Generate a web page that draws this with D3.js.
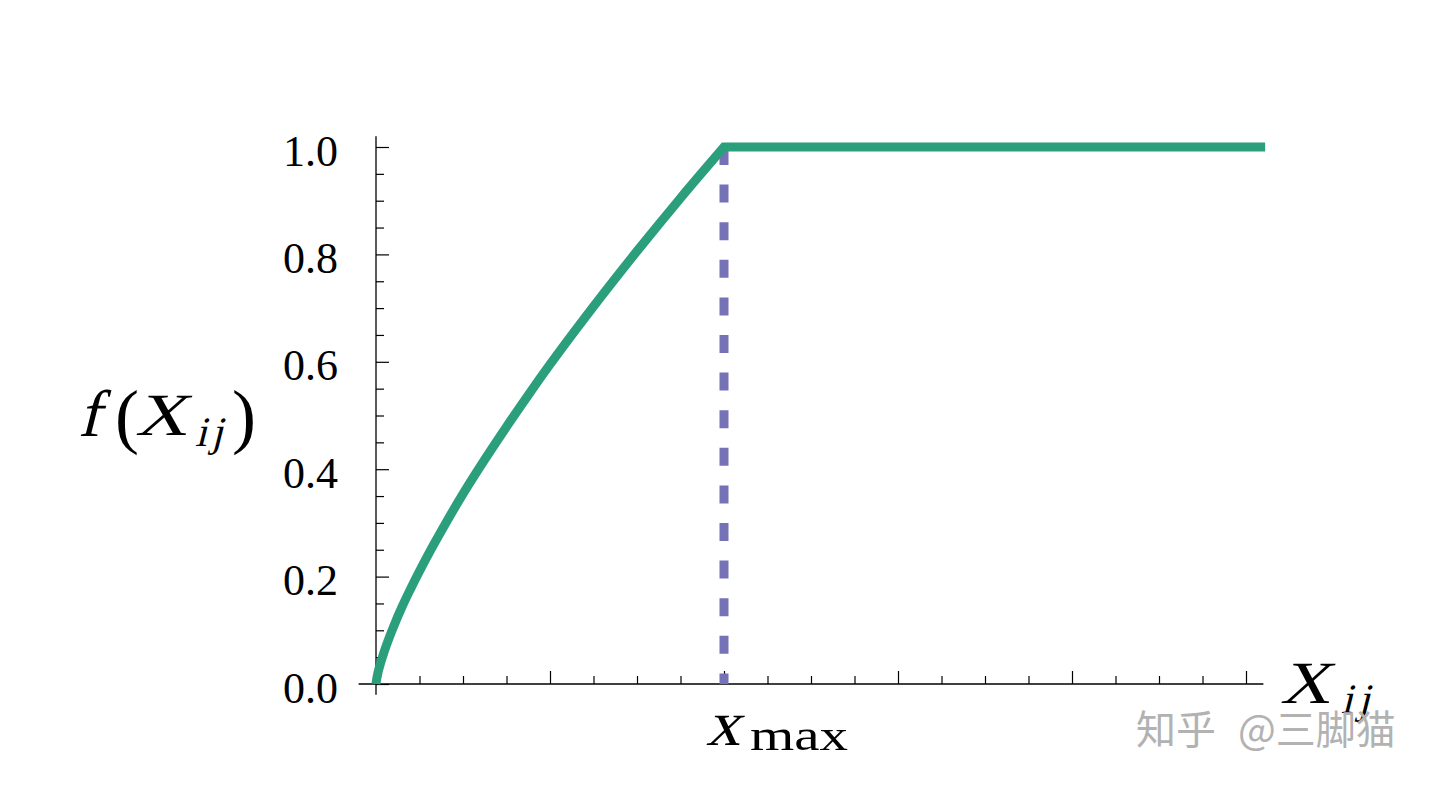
<!DOCTYPE html>
<html>
<head>
<meta charset="utf-8">
<script src="https://cdn.jsdelivr.net/npm/d3@7"></script>
<style>
  html, body { margin: 0; padding: 0; background: #fff; }
  svg { display: block; }
  .serif { font-family: "Liberation Serif", serif; }
</style>
</head>
<body>
<div class="chart"></div>
<script>
// values (x in units of the tick grid, xmax = 2)
const curveX = [0, 0.005, 0.01, 0.02, 0.05, 0.1, 0.15, 0.2, 0.3, 0.4, 0.5, 0.625, 0.75, 0.875, 1.0, 1.25, 1.5, 1.75, 2.0]
const curveY = [0, 0.011, 0.019, 0.032, 0.063, 0.106, 0.144, 0.178, 0.241, 0.299, 0.354, 0.418, 0.479, 0.538, 0.595, 0.703, 0.806, 0.905, 1.0]
const flatX = [2.0, 5.11]
const flatY = [1.0, 1.0]
const xmaxValue = 2.0

const yMajor = [0, 0.2, 0.4, 0.6, 0.8, 1.0]
const yMinor = [0.05, 0.1, 0.15, 0.25, 0.3, 0.35, 0.45, 0.5, 0.55, 0.65, 0.7, 0.75, 0.85, 0.9, 0.95]
const xMajor = [0, 1, 2, 3, 4, 5]
const xMinor = [0.25, 0.5, 0.75, 1.25, 1.5, 1.75, 2.25, 2.5, 2.75, 3.25, 3.5, 3.75, 4.25, 4.5, 4.75]

const W = 1440
const H = 789
const green = '#2b9f7b'
const purple = '#7672b6'

const svg = d3.select('.chart')
  .append('svg')
  .attr('width', W)
  .attr('height', H)

const x = d3.scaleLinear().domain([0, 5]).range([376, 1246])
const y = d3.scaleLinear().domain([0, 1]).range([684, 147])

// axis lines
svg.append('line')
  .attr('x1', x(-0.1)).attr('x2', x(5.1))
  .attr('y1', y(0)).attr('y2', y(0))
  .attr('stroke', '#000').attr('stroke-width', 1.3)
svg.append('line')
  .attr('x1', x(0)).attr('x2', x(0))
  .attr('y1', y(-0.02)).attr('y2', y(1.02))
  .attr('stroke', '#000').attr('stroke-width', 1.3)

// x ticks (pointing up, no labels)
const gx = svg.append('g').attr('transform', `translate(0,${y(0)})`)
gx.call(d3.axisBottom(x).tickValues(xMajor).tickSizeInner(-13).tickSizeOuter(0).tickFormat(''))
gx.append('g').call(d3.axisBottom(x).tickValues(xMinor).tickSizeInner(-8).tickSizeOuter(0).tickFormat(''))
gx.selectAll('.domain').remove()
gx.selectAll('.tick line').attr('stroke', '#000').attr('stroke-width', 1.2)

// y ticks (pointing right, labels on the left)
const gy = svg.append('g').attr('transform', `translate(${x(0)},0)`)
gy.call(d3.axisLeft(y).tickValues(yMajor).tickSizeInner(-13).tickSizeOuter(0).tickPadding(38).tickFormat(d3.format('.1f')))
gy.append('g').call(d3.axisLeft(y).tickValues(yMinor).tickSizeInner(-8).tickSizeOuter(0).tickFormat(''))
gy.selectAll('.domain').remove()
gy.selectAll('.tick line').attr('stroke', '#000').attr('stroke-width', 1.2)
gy.selectAll('.tick text')
  .attr('class', 'serif')
  .attr('font-size', 44)
  .attr('fill', '#000')
  .attr('dy', '0.41em')

// dashed x_max line
svg.append('line')
  .attr('x1', x(xmaxValue)).attr('x2', x(xmaxValue))
  .attr('y1', y(1)).attr('y2', y(0))
  .attr('stroke', purple)
  .attr('stroke-width', 9)
  .attr('stroke-dasharray', '18,19.6')

// green curve
const rising = curveX.map((d, i) => [d, curveY[i]])
const flat = flatX.map((d, i) => [d, flatY[i]])
const line = d3.line().x(d => x(d[0])).y(d => y(d[1]))
const pathD = line.curve(d3.curveMonotoneX)(rising) + 'L' + x(flat[1][0]) + ',' + y(flat[1][1])
svg.append('path')
  .attr('d', pathD)
  .attr('fill', 'none')
  .attr('stroke', green)
  .attr('stroke-width', 9)
  .attr('stroke-linejoin', 'miter')

// slanted serif letters stand in for math italics (no serif italic face installed)
function mathText(g, str, px, py, size, len) {
  const t = g.append('text')
    .attr('class', 'serif')
    .attr('transform', `translate(${px},${py}) skewX(-14)`)
    .attr('font-size', size)
    .text(str)
  if (len) t.attr('textLength', len).attr('lengthAdjust', 'spacingAndGlyphs')
  return t
}
function plainText(g, str, px, py, size, len) {
  const t = g.append('text')
    .attr('class', 'serif')
    .attr('x', px).attr('y', py)
    .attr('font-size', size)
    .text(str)
  if (len) t.attr('textLength', len).attr('lengthAdjust', 'spacingAndGlyphs')
  return t
}

// y label f(X_ij)
const yl = svg.append('g').attr('fill', '#000')
mathText(yl, 'f', 78, 436, 66, 22)
plainText(yl, '(', 115, 440, 72)
mathText(yl, 'X', 135, 435, 60, 52)
mathText(yl, 'i', 195, 446, 42)
mathText(yl, 'j', 211, 446, 42)
plainText(yl, ')', 232, 440, 72)

// x_max label
const xl = svg.append('g').attr('fill', '#000')
mathText(xl, 'x', 706, 745, 64, 34)
plainText(xl, 'max', 750, 750, 44, 98)

// X_ij axis label
const xa = svg.append('g').attr('fill', '#000')
mathText(xa, 'X', 1280, 703, 60, 50)
mathText(xa, 'i', 1341, 713, 42)
mathText(xa, 'j', 1358, 713, 42)

// watermark
const wm = svg.append('g')
  .attr('font-family', '"Noto Sans CJK SC", sans-serif')
  .attr('font-size', 40)
  .attr('fill', '#b2b2b2')
wm.append('text').attr('x', 1136).attr('y', 744).text('知乎')
wm.append('text').attr('x', 1238).attr('y', 744).text('@三脚猫')
</script>
</body>
</html>
